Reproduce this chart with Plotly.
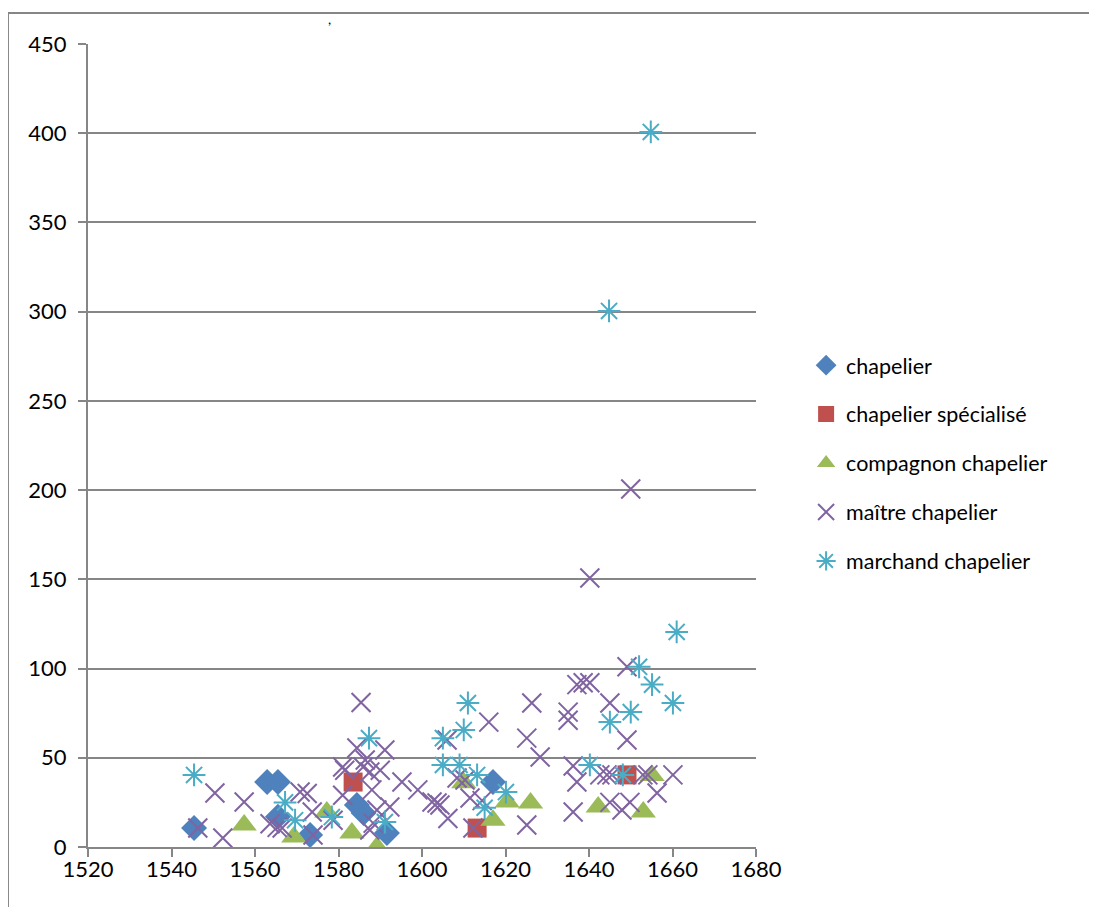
import plotly.graph_objects as go

# ---- data (year, value) ----
chapelier_x = [1545.4, 1562.9, 1565.5, 1565.5, 1573.2, 1584.4, 1586.0, 1591.6, 1617.0]
chapelier_y = [10.6, 36.4, 36.4, 17.0, 6.7, 23.5, 19.0, 7.8, 36.4]

specialise_x = [1583.5, 1613.2, 1649.1]
specialise_y = [36.4, 10.6, 40.4]

compagnon_x = [1557.4, 1569.3, 1577.2, 1583.2, 1589.2, 1610.0, 1617.0, 1620.4, 1626.0, 1642.2, 1653.0, 1655.1]
compagnon_y = [12.3, 5.6, 19.6, 7.8, 0.0, 36.0, 15.0, 25.2, 24.7, 22.4, 19.6, 40.0]

maitre_x = [1546.3, 1550.4, 1552.3, 1557.4, 1563.6, 1565.3, 1566.5, 1570.8, 1572.5, 1573.7,
            1573.9, 1578.7, 1581.0, 1581.0, 1581.5, 1584.4, 1585.4, 1585.9, 1586.4, 1587.5,
            1588.0, 1589.2, 1588.3, 1587.5, 1590.0, 1591.1, 1592.3, 1595.2, 1599.0, 1602.4,
            1603.6, 1604.3, 1606.2, 1606.0, 1608.4, 1610.3, 1611.5, 1612.2, 1614.4, 1616.0,
            1625.1, 1625.1, 1626.3, 1628.3, 1635.0, 1635.0, 1636.2, 1636.2, 1637.1, 1637.1,
            1638.6, 1640.2, 1640.2, 1642.6, 1644.3, 1645.0, 1645.0, 1645.5, 1647.9, 1649.1,
            1649.1, 1649.8, 1650.0, 1652.9, 1654.1, 1656.3, 1660.1]
maitre_y = [10.6, 30.3, 5.0, 25.2, 13.0, 11.0, 10.6, 30.8, 30.0, 19.6,
            6.7, 15.0, 44.8, 29.0, 43.0, 55.5, 81.0, 44.8, 48.8, 42.0,
            32.0, 20.7, 13.4, 9.5, 43.0, 54.4, 22.4, 36.4, 32.0, 25.2,
            24.7, 23.5, 16.0, 60.0, 38.7, 37.5, 27.5, 10.6, 26.0, 70.0,
            61.0, 12.3, 80.7, 50.4, 75.6, 71.0, 45.4, 19.6, 91.0, 36.4,
            92.0, 92.0, 150.7, 40.4, 40.4, 80.7, 25.0, 40.4, 20.7, 60.0,
            101.0, 25.0, 200.6, 40.4, 40.4, 30.3, 40.4]

marchand_x = [1545.4, 1567.2, 1569.6, 1578.4, 1587.3, 1591.1, 1605.0, 1609.0, 1605.0, 1610.0,
              1611.0, 1613.2, 1615.0, 1620.1, 1640.2, 1645.0, 1644.8, 1648.1, 1650.0, 1652.0,
              1655.1, 1654.8, 1660.1, 1661.0]
marchand_y = [40.4, 25.0, 15.0, 16.8, 61.0, 14.0, 46.0, 46.0, 61.0, 65.6,
              80.7, 40.4, 22.0, 30.8, 46.0, 70.0, 300.4, 40.4, 75.6, 101.0,
              91.0, 400.7, 80.7, 120.5]

x_ticks = [1520, 1540, 1560, 1580, 1600, 1620, 1640, 1660, 1680]
y_ticks = [0, 50, 100, 150, 200, 250, 300, 350, 400, 450]

BLUE, RED, GREEN, PURPLE, CYAN = "#4F81BD", "#C0504D", "#9BBB59", "#8064A2", "#4BACC6"
GRID = "#868686"
FONT = "Lato"

fig = go.Figure()
fig.add_trace(go.Scatter(x=chapelier_x, y=chapelier_y, mode="markers", name="chapelier",
                         legendgroup="a",
                         marker=dict(symbol="diamond", size=20, color=BLUE, line=dict(width=0))))
fig.add_trace(go.Scatter(x=specialise_x, y=specialise_y, mode="markers", name="chapelier spécialisé",
                         legendgroup="b",
                         marker=dict(symbol="square", size=19, color=RED, line=dict(width=0))))
fig.add_trace(go.Scatter(x=compagnon_x, y=compagnon_y, mode="markers", name="compagnon chapelier",
                         legendgroup="c",
                         marker=dict(symbol="triangle-up", size=22, color=GREEN, line=dict(width=0))))
fig.add_trace(go.Scatter(x=maitre_x, y=maitre_y, mode="markers", name="maître chapelier",
                         legendgroup="d",
                         marker=dict(symbol="x-thin", size=19, color=PURPLE, line=dict(width=2, color=PURPLE))))
fig.add_trace(go.Scatter(x=marchand_x, y=marchand_y, mode="markers", name="marchand chapelier",
                         legendgroup="e",
                         marker=dict(symbol="asterisk", size=19, color=CYAN, line=dict(width=2, color=CYAN))))

fig.update_layout(
    width=1089, height=899,
    margin=dict(l=80, r=341, t=36, b=60),
    paper_bgcolor="white", plot_bgcolor="white",
    font=dict(family=FONT, size=22, color="black"),
    showlegend=True,
    legend=dict(x=1.075, y=0.478, xanchor="left", yanchor="middle",
                font=dict(family=FONT, size=21.5), tracegroupgap=18,
                itemsizing="trace", bgcolor="rgba(0,0,0,0)"),
    xaxis=dict(range=[1520, 1680], tickvals=x_ticks, ticktext=[str(v) for v in x_ticks],
               showgrid=False, zeroline=False, showline=True, linecolor=GRID, linewidth=2,
               ticks="outside", ticklen=8, tickwidth=2, tickcolor=GRID,
               ticklabelstandoff=-6,
               tickfont=dict(family=FONT, size=22)),
    yaxis=dict(range=[0, 450], tickvals=y_ticks, ticktext=[str(v) for v in y_ticks],
               showgrid=True, gridcolor=GRID, gridwidth=2, zeroline=False,
               showline=True, linecolor=GRID, linewidth=2,
               ticks="outside", ticklen=8, tickwidth=2, tickcolor=GRID,
               ticklabelstandoff=7,
               tickfont=dict(family=FONT, size=22)),
)

# outer chart frame (partially visible, cropped)
fig.add_shape(type="line", xref="paper", yref="paper", x0=-0.1198, x1=1.52, y0=1.0386, y1=1.0386,
              line=dict(color=GRID, width=2))
fig.add_shape(type="line", xref="paper", yref="paper", x0=-0.1198, x1=-0.1198, y0=-0.08, y1=1.0386,
              line=dict(color=GRID, width=2))
fig.add_annotation(text=",", xref="paper", yref="paper", x=0.362, y=1.0448, yanchor="top",
                   showarrow=False, font=dict(family=FONT, size=14))

fig.write_html("out.html")
